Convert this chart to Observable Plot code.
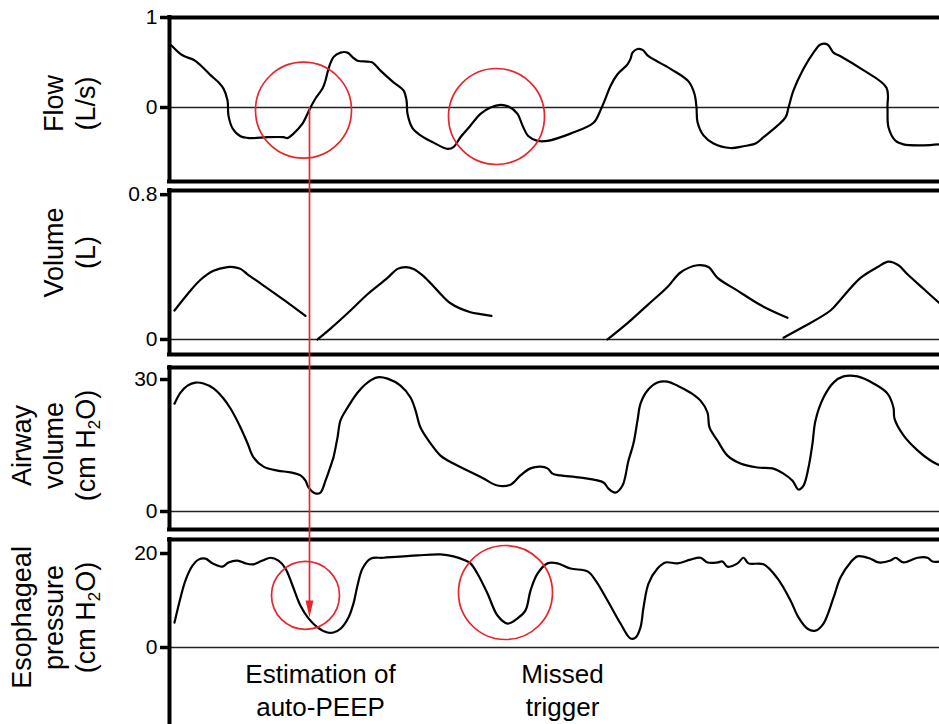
<!DOCTYPE html>
<html><head><meta charset="utf-8">
<script src="https://cdn.jsdelivr.net/npm/d3@7"></script>
<script src="https://cdn.jsdelivr.net/npm/@observablehq/plot@0.6"></script>
<style>
body{margin:0;background:#fff;}
#chart{width:939px;height:724px;overflow:hidden;background:#fff;}
#chart svg{display:block;overflow:visible;}
</style></head><body><div id="chart"></div>
<script>
// ---- Data (time in arbitrary seconds-like units) ----
const flowTime = [0.02,0.13,0.24,0.31,0.41,0.49,0.54,0.58,0.59,0.63,0.71,0.81,0.98,1.14,1.18,1.24,1.33,1.38,1.41,1.46,1.53,1.56,1.59,1.64,1.71,1.78,1.83,1.88,1.98,2.03,2.11,2.24,2.34,2.37,2.38,2.43,2.51,2.64,2.78,2.84,2.91,3.01,3.11,3.21,3.31,3.39,3.48,3.53,3.59,3.68,3.78,4.01,4.24,4.31,4.36,4.41,4.48,4.58,4.61,4.63,4.68,4.73,4.79,5.01,5.19,5.25,5.27,5.28,5.34,5.44,5.61,5.74,5.86,5.94,6.16,6.19,6.24,6.34,6.44,6.51,6.58,6.64,6.71,6.93,7.17,7.18,7.19,7.26,7.34,7.54,7.70];
const flowValue = [0.69,0.58,0.53,0.47,0.36,0.28,0.21,0.08,-0.09,-0.23,-0.32,-0.34,-0.33,-0.33,-0.34,-0.29,-0.18,-0.07,0,0.1,0.21,0.3,0.43,0.56,0.61,0.61,0.56,0.52,0.51,0.5,0.41,0.28,0.19,0.08,-0.07,-0.23,-0.31,-0.39,-0.46,-0.44,-0.33,-0.2,-0.07,0,0.03,0.01,-0.07,-0.2,-0.32,-0.37,-0.37,-0.29,-0.17,-0.03,0.1,0.24,0.37,0.48,0.54,0.61,0.65,0.64,0.57,0.43,0.29,0.15,0,-0.16,-0.31,-0.4,-0.45,-0.43,-0.4,-0.33,-0.11,0,0.19,0.43,0.61,0.7,0.7,0.61,0.57,0.42,0.22,0,-0.22,-0.37,-0.41,-0.42,-0.41];

const volumeTime = [0.05,0.18,0.31,0.44,0.58,0.64,0.71,0.78,0.91,1.14,1.36, 1.48,1.61,1.81,1.98,2.18,2.28,2.36,2.44,2.54,2.68,2.81,3.01,3.11,3.22, 4.38,4.58,4.78,4.98,5.11,5.28,5.39,5.48,5.68,5.91,6.18, 6.14,6.34,6.61,6.71,6.91,7.08,7.19,7.29,7.38,7.54,7.70];
const volumeValue = [0.16,0.25,0.33,0.38,0.40,0.40,0.39,0.36,0.31,0.22,0.13, 0,0.06,0.16,0.25,0.34,0.39,0.40,0.39,0.35,0.27,0.20,0.15,0.14,0.13, 0,0.09,0.19,0.29,0.37,0.41,0.40,0.34,0.27,0.19,0.12, 0.01,0.07,0.16,0.22,0.34,0.40,0.43,0.41,0.36,0.28,0.20];
const volumeBreath = [1,1,1,1,1,1,1,1,1,1,1, 2,2,2,2,2,2,2,2,2,2,2,2,2,2, 3,3,3,3,3,3,3,3,3,3,3, 4,4,4,4,4,4,4,4,4,4,4];

const airwayTime = [0.05,0.11,0.18,0.26,0.34,0.44,0.54,0.61,0.71,0.78,0.84,0.94,1.08,1.21,1.31,1.36,1.39,1.46,1.51,1.56,1.63,1.64,1.68,1.71,1.78,1.88,1.98,2.08,2.18,2.31,2.41,2.46,2.51,2.61,2.71,2.84,3.01,3.14,3.28,3.41,3.51,3.61,3.71,3.78,3.83,3.91,4.11,4.34,4.39,4.46,4.53,4.59,4.64,4.68,4.71,4.78,4.88,4.98,5.08,5.21,5.31,5.38,5.40,5.48,5.58,5.71,5.88,6.03,6.14,6.23,6.29,6.34,6.39,6.43,6.46,6.54,6.64,6.74,6.88,7.04,7.18,7.24,7.25,7.34,7.48,7.61,7.70];
const airwayValue = [24.5,27,28.6,29.3,29.1,28,25.7,23.4,19.1,15.5,12.3,10.2,9.3,8.9,8.2,7.0,5.5,4.1,4.3,7.0,11.6,12.3,16.8,20.7,23.6,27,29.3,30.5,30.2,28.6,25.9,23,19.1,15.5,12.7,10.9,9.0,7.5,5.9,6.1,8.2,9.8,10.2,9.8,8.6,8.2,7.7,6.6,5.2,4.3,5.9,11.6,15.5,20.7,24.5,27.5,29.3,29.5,28.6,27,25.2,22.5,19.1,16.1,12.7,10.9,10.0,9.8,8.6,7.0,5.0,5.9,10.0,15.5,20.7,25.9,29.3,30.7,30.7,29.1,26.8,23.6,21.1,17.3,13.9,11.6,10.5];

const esoTime = [0.05,0.11,0.16,0.23,0.29,0.36,0.43,0.53,0.59,0.68,0.76,0.84,0.93,1.01,1.09,1.16,1.23,1.31,1.39,1.48,1.58,1.64,1.71,1.79,1.84,1.88,1.93,2.01,2.14,2.48,2.71,2.84,2.96,3.01,3.08,3.18,3.28,3.38,3.48,3.56,3.61,3.68,3.78,3.88,4.01,4.18,4.26,4.38,4.51,4.61,4.66,4.71,4.74,4.79,4.88,4.96,5.08,5.21,5.31,5.38,5.48,5.53,5.58,5.68,5.74,5.79,5.94,6.08,6.21,6.29,6.38,6.46,6.54,6.64,6.71,6.81,6.88,7.01,7.09,7.21,7.26,7.34,7.48,7.58,7.63,7.70];
const esoValue = [5.3,10.6,14.3,17.4,18.7,18.9,17.9,17.2,18.1,18.5,17.9,17.7,18.5,19.1,18.5,16.8,13.2,8.9,6.2,4.3,3.2,3.2,4.0,6.4,9.4,13.2,16.8,18.9,19.1,19.6,19.8,19.4,18.5,17.9,15.7,11.5,6.8,5.1,6.2,7.9,12.1,15.7,17.9,17.9,16.8,16.2,14.3,10.0,5.1,1.9,2.1,4.3,8.5,13.6,16.8,18.1,17.9,18.7,19.1,18.1,18.1,18.3,17.2,17.9,19.1,17.9,17.7,14.7,10.0,6.4,4.0,3.6,5.1,10.6,14.9,18.1,19.4,18.9,18.1,18.5,19.1,18.1,19.1,19.1,18.3,18.3];

// annotations
const flowCircleTime = [1.34, 3.27];
const flowCircleValue = [-0.03, -0.1];
const esoCircleTime = [1.36, 3.36];
const esoCircleValue = [11.1, 11.7];
const esoCircleRadius = [34, 47];
const autoPeepTime = 1.40;   // vertical red marker
const autoPeepValue = 6.4;   // esophageal pressure at the arrow tip
const noteTime = [1.51, 3.93];
const noteText = ["Estimation of\nauto-PEEP", "Missed\ntrigger"];

const flowTicks = [0, 1];
const volumeTicks = [0, 0.8];
const airwayTicks = [0, 30];
const esoTicks = [0, 20];

// ---- tables ----
const flow = flowTime.map((t, i) => ({t, v: flowValue[i]}));
const volume = volumeTime.map((t, i) => ({t, v: volumeValue[i], b: volumeBreath[i]}));
const airway = airwayTime.map((t, i) => ({t, v: airwayValue[i]}));
const eso = esoTime.map((t, i) => ({t, v: esoValue[i]}));
const flowCircles = flowCircleTime.map((t, i) => ({t, v: flowCircleValue[i]}));
const esoCircles = esoCircleTime.map((t, i) => ({t, v: esoCircleValue[i], r: esoCircleRadius[i]}));
const notes = noteTime.map((t, i) => ({t, text: noteText[i]}));

const RED = "#e8252b";
const FONT = "'Liberation Sans', Arial, Helvetica, sans-serif";
const arrowHead = {draw(ctx, size) { const s = Math.sqrt(size); ctx.moveTo(0, 0); ctx.lineTo(-s * 0.22, -s * 0.95); ctx.lineTo(s * 0.22, -s * 0.95); ctx.closePath(); }};

function panel({height, marginTop, marginBottom, yDomain, ticks, label, labelY, marks, bottom = true}) {
  const [y0, y1] = yDomain;
  const frame = [
    Plot.ruleY([0], {stroke: "#222", strokeWidth: 1.6}),
    Plot.ruleY(bottom ? [y0, y1] : [y1], {stroke: "#000", strokeWidth: 4, insetLeft: -2}),
    Plot.ruleX([0], {stroke: "#000", strokeWidth: 4, insetTop: -2, insetBottom: bottom ? -2 : 0}),
    Plot.axisY({ticks, tickFormat: d => String(d), tickSize: 9, tickPadding: 3, strokeWidth: 3.5, fontSize: 21, label: null, stroke: "#000", fill: "#000"}),
    Plot.text([label], {x: 0, y: labelY, text: d => d, dx: -75, rotate: -90, textAnchor: "middle", lineAnchor: "bottom", fontSize: 27, lineHeight: 1.18, fill: "#000"})
  ];
  const svg = Plot.plot({
    width: 939, height, marginLeft: 169, marginRight: 0, marginTop, marginBottom,
    style: {fontFamily: FONT, background: "#fff", overflow: "visible"},
    x: {domain: [0, 7.7], axis: null},
    y: {domain: yDomain},
    r: {type: "identity"},
    marks: [...frame, ...marks]
  });
  svg.querySelectorAll("text, tspan").forEach(el => {
    if (el.children.length === 0 && el.textContent.includes("H2O")) {
      el.innerHTML = el.textContent.replace("H2O", 'H<tspan dy="5" font-size="17">2</tspan><tspan dy="-5">O</tspan>');
    }
  });
  return svg;
}

const chart = document.getElementById("chart");

chart.append(panel({
  height: 186, marginTop: 17, marginBottom: 5, yDomain: [-0.822, 1], ticks: flowTicks,
  label: "Flow\n(L/s)", labelY: 0.044,
  marks: [
    Plot.line(flow, {x: "t", y: "v", stroke: "#000", strokeWidth: 2.2, curve: "catmull-rom"}),
    Plot.ruleX([autoPeepTime], {y1: 0, y2: -0.822, insetBottom: -5, stroke: RED, strokeWidth: 1.7}),
    Plot.dot(flowCircles, {x: "t", y: "v", r: 48, stroke: RED, strokeWidth: 1.7, fill: "none"})
  ]
}));

chart.append(panel({
  height: 172, marginTop: 4, marginBottom: 4, yDomain: [-0.083, 0.823], ticks: volumeTicks,
  label: "Volume\n(L)", labelY: 0.48,
  marks: [
    Plot.line(volume, {x: "t", y: "v", z: "b", stroke: "#000", strokeWidth: 2.2, curve: "catmull-rom"}),
    Plot.ruleX([autoPeepTime], {insetTop: -4, insetBottom: -4, stroke: RED, strokeWidth: 1.7})
  ]
}));

chart.append(panel({
  height: 177, marginTop: 9, marginBottom: 6, yDomain: [-4.09, 32.73], ticks: airwayTicks,
  label: "Airway\nvolume\n(cm H2O)", labelY: 15,
  marks: [
    Plot.line(airway, {x: "t", y: "v", stroke: "#000", strokeWidth: 2.2, curve: "catmull-rom"}),
    Plot.ruleX([autoPeepTime], {insetTop: -9, insetBottom: -6, stroke: RED, strokeWidth: 1.7})
  ]
}));

chart.append(panel({
  height: 189, marginTop: 4, marginBottom: 0, yDomain: [-16.38, 22.98], ticks: esoTicks, bottom: false,
  label: "Esophageal\npressure\n(cm H2O)", labelY: 6.4,
  marks: [
    Plot.line(eso, {x: "t", y: "v", stroke: "#000", strokeWidth: 2.2, curve: "catmull-rom"}),
    Plot.dot(esoCircles, {x: "t", y: "v", r: "r", stroke: RED, strokeWidth: 1.7, fill: "none"}),
    Plot.ruleX([autoPeepTime], {y1: 22.98, y2: autoPeepValue + 2, insetTop: -4, stroke: RED, strokeWidth: 1.7}),
    Plot.dot([autoPeepTime], {x: d => d, y: autoPeepValue, r: 10, symbol: arrowHead, fill: RED, stroke: "none"}),
    Plot.text(notes, {x: "t", y: -2.55, text: "text", textAnchor: "middle", lineAnchor: "top", fontSize: 26, lineHeight: 1.27, fill: "#000"})
  ]
}));
</script></body></html>
